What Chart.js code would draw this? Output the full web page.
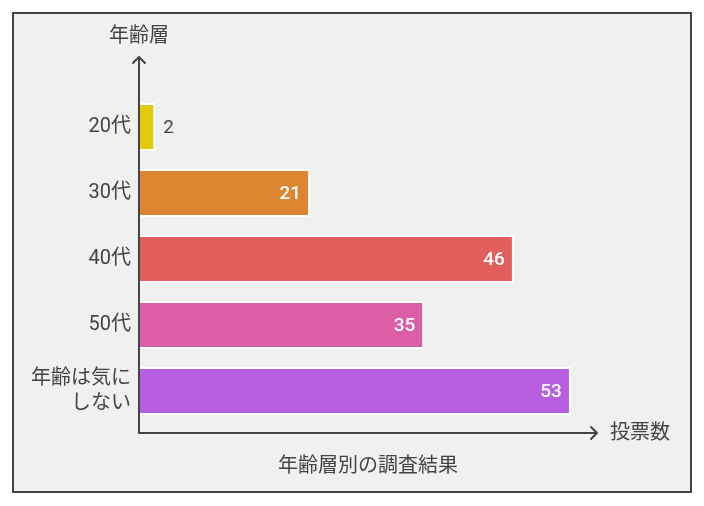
<!DOCTYPE html>
<html>
<head>
<meta charset="utf-8">
<script src="https://cdn.jsdelivr.net/npm/chart.js@4"></script>
<style>
html,body{margin:0;padding:0;background:#ffffff;}
#wrap{position:absolute;left:0;top:0;width:704px;height:506px;}
</style>
</head>
<body>
<div id="wrap"><canvas id="c" width="704" height="506"></canvas></div>
<script>
const categories = ['20代', '30代', '40代', '50代', ['年齢は気に', 'しない']];
const votes = [2, 21, 46, 35, 53];
const barColors = ['#E2CB0A', '#DE8532', '#E25F5E', '#DB5EA6', '#B85EE0'];
const xAxisTitle = '投票数';
const yAxisTitle = '年齢層';
const chartTitle = '年齢層別の調査結果';
const xMax = 56.2;

const FONT = 'Roboto, "Noto Sans CJK JP", "Noto Sans", sans-serif';
const TEXT = '#444444';

const framePlugin = {
  id: 'frame',
  beforeDraw(chart) {
    const ctx = chart.ctx;
    ctx.save();
    ctx.fillStyle = '#f0f0f0';
    ctx.fillRect(13, 13, 678, 479);
    ctx.strokeStyle = '#444444';
    ctx.lineWidth = 2;
    ctx.strokeRect(13, 13, 678, 479);
    ctx.restore();
  }
};

const axesPlugin = {
  id: 'arrowAxes',
  afterDatasetsDraw(chart) {
    const ctx = chart.ctx;
    const a = chart.chartArea;
    const x0 = a.left;
    const yBase = a.bottom + 9;
    const yTop = a.top - 37;
    const xEnd = a.right;
    ctx.save();
    ctx.strokeStyle = '#444444';
    ctx.lineWidth = 2;
    ctx.lineCap = 'round';
    ctx.lineJoin = 'round';
    ctx.beginPath();
    ctx.moveTo(x0, yBase);
    ctx.lineTo(x0, yTop);
    ctx.moveTo(x0 - 6, yTop + 6);
    ctx.lineTo(x0, yTop);
    ctx.lineTo(x0 + 6, yTop + 6);
    ctx.moveTo(x0, yBase);
    ctx.lineTo(xEnd, yBase);
    ctx.moveTo(xEnd - 6, yBase - 6);
    ctx.lineTo(xEnd, yBase);
    ctx.lineTo(xEnd - 6, yBase + 6);
    ctx.stroke();

    ctx.fillStyle = TEXT;
    ctx.font = '20px ' + FONT;
    ctx.textBaseline = 'middle';
    ctx.textAlign = 'center';
    ctx.fillText(yAxisTitle, x0, yTop - 20);
    ctx.textAlign = 'left';
    ctx.fillText(xAxisTitle, xEnd + 13, yBase + 1);

    // value labels
    const meta = chart.getDatasetMeta(0);
    meta.data.forEach((bar, i) => {
      const v = votes[i];
      const w = bar.x - bar.base;
      if (w > 40) {
        ctx.fillStyle = '#ffffff';
        ctx.font = '500 19px ' + FONT;
        ctx.textAlign = 'right';
        ctx.fillText(String(v), bar.x - 9, bar.y + 1);
      } else {
        ctx.fillStyle = TEXT;
        ctx.font = '19px ' + FONT;
        ctx.textAlign = 'left';
        ctx.fillText(String(v), bar.x + 8, bar.y + 1);
      }
    });
    ctx.restore();
  }
};

new Chart(document.getElementById('c'), {
  type: 'bar',
  data: {
    labels: categories,
    datasets: [{
      data: votes,
      backgroundColor: barColors,
      borderColor: '#ffffff',
      borderWidth: 2,
      borderSkipped: 'start',
      barPercentage: 0.727,
      categoryPercentage: 1
    }]
  },
  options: {
    indexAxis: 'y',
    responsive: false,
    animation: false,
    events: [],
    layout: { padding: { left: 0, right: 107, top: 94, bottom: 14 } },
    plugins: {
      legend: { display: false },
      tooltip: { enabled: false },
      title: {
        display: true,
        text: chartTitle,
        position: 'bottom',
        fullSize: false,
        color: TEXT,
        font: { family: FONT, size: 20, weight: 'normal', lineHeight: 1.2 },
        padding: { top: 31, bottom: 13 }
      }
    },
    scales: {
      x: {
        display: false,
        min: 0,
        max: xMax
      },
      y: {
        grid: { display: false },
        border: { display: false },
        afterFit(scale) { scale.width = 139; },
        ticks: {
          color: TEXT,
          padding: 0,
          font: { family: FONT, size: 20, lineHeight: 1.25 }
        }
      }
    }
  },
  plugins: [framePlugin, axesPlugin]
});
</script>
</body>
</html>
